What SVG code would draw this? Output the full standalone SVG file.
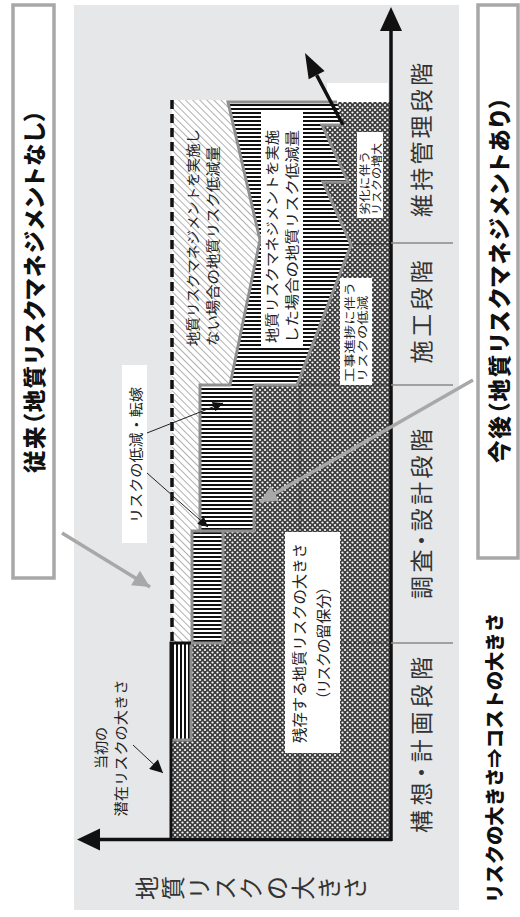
<svg xmlns="http://www.w3.org/2000/svg" width="520" height="917" viewBox="0 0 520 917">
<style>
text{font-family:"Noto Sans CJK JP","Noto Sans CJK SC",sans-serif;fill:#1a1a1a;dominant-baseline:central}
.title{font-size:22.5px;font-weight:900;fill:#111;font-feature-settings:"palt"}
.phase{font-size:23px;fill:#333;font-feature-settings:"palt"}
.lbl{font-size:14px;fill:#222}
.sm{font-size:11.5px;fill:#222}
.ax{font-size:24px;fill:#333}
.frame{fill:#fff;stroke:#a8a8a8;stroke-width:3.5}
.gl{fill:none;stroke:#8f8f8f;stroke-width:3}
.thin{fill:none;stroke:#222;stroke-width:0.9;stroke-opacity:0.7}
.div{stroke:#8a8a8a;stroke-width:1.5}
.wb{fill:#fff}
</style>
<defs>
<pattern id="cross" width="5" height="5" patternUnits="userSpaceOnUse">
<rect width="5" height="5" fill="#3e3e3e"/>
<circle cx="0" cy="0" r="1.1" fill="#fff"/><circle cx="5" cy="0" r="1.1" fill="#fff"/>
<circle cx="0" cy="5" r="1.1" fill="#fff"/><circle cx="5" cy="5" r="1.1" fill="#fff"/>
<circle cx="2.5" cy="2.5" r="1.1" fill="#fff"/>
</pattern>
<pattern id="hs" width="4" height="4" patternUnits="userSpaceOnUse">
<rect width="4" height="4" fill="#fff"/><rect width="4" height="2" fill="#111"/>
</pattern>
<pattern id="vs" width="4" height="4" patternUnits="userSpaceOnUse">
<rect width="4" height="4" fill="#fff"/><rect width="2" height="4" fill="#111"/>
</pattern>
<pattern id="hatch" width="5" height="5" patternUnits="userSpaceOnUse" patternTransform="rotate(-45)">
<rect width="5" height="5" fill="#fff"/><rect width="1" height="5" fill="#b0b0b0"/>
</pattern>
<marker id="tri" viewBox="0 0 10 10" refX="10" refY="5" markerWidth="12" markerHeight="10" markerUnits="userSpaceOnUse" orient="auto">
<path d="M0,0 L10,5 L0,10 Z" fill="#111"/>
</marker>
<marker id="trib" viewBox="0 0 10 10" refX="10" refY="5" markerWidth="17" markerHeight="13" markerUnits="userSpaceOnUse" orient="auto">
<path d="M0,0 L10,5 L0,10 Z" fill="#111"/>
</marker>
<marker id="grayarrow" viewBox="0 0 10 10" refX="10" refY="5" markerWidth="22" markerHeight="17" markerUnits="userSpaceOnUse" orient="auto">
<path d="M0,0 L10,5 L0,10 Z" fill="#a8a8a8"/>
</marker>
</defs>

<g id="background">
<rect x="74" y="5" width="385" height="905" fill="#e6e7e8"/>
<rect x="327" y="83" width="61" height="19" fill="#fff"/>
</g>

<g id="region-no-management">
<polygon points="172,100 228,100 260,240 230,385 200,385 200,531 192,531 192,643 172,643" fill="url(#hatch)"/>
</g>

<g id="region-residual">
<polygon points="337,102 391,102 391,840 172,840 172,740 192,740 192,643 223,643 223,531 254,531 254,385 297,385 351,245 323,182 348,182 322,125 343,125" fill="url(#cross)"/>
<line class="thin" x1="224" y1="643" x2="224" y2="840"/>
<line class="thin" x1="300" y1="385" x2="300" y2="840"/>
<line class="thin" x1="223" y1="643" x2="391" y2="643" stroke-dasharray="3 1.5"/>
<line class="thin" x1="297" y1="385" x2="391" y2="385"/>
<line class="thin" x1="351" y1="244" x2="391" y2="244"/>
</g>

<g id="region-management">
<polygon points="228,102 337,102 343,125 322,125 348,182 323,182 351,245 297,385 230,385 260,240" fill="url(#hs)"/>
<rect x="172" y="643" width="19" height="97" fill="url(#vs)"/>
<rect x="192" y="531" width="31" height="112" fill="url(#hs)"/>
<rect x="200" y="385" width="54" height="146" fill="url(#hs)"/>
</g>

<g id="outlines">
<polyline class="gl" points="337,102 228,102 260,240 230,385 200,385 200,531 192,531 192,643"/>
<polyline class="gl" points="254,385 254,531 200,531"/>
<polyline class="gl" points="223,531 223,643 192,643"/>
<polyline class="gl" points="191,643 191,740 170,740"/>
<polyline class="gl" points="254,385 297,385 351,245 323,182 348,182 322,125 343,125"/>
<line x1="172" y1="100" x2="172" y2="643" stroke="#111" stroke-width="3.5" stroke-dasharray="9 5"/>
<polyline points="191,643 171,643 171,840" fill="none" stroke="#111" stroke-width="3"/>
</g>

<g id="connectors">
<line x1="343" y1="125" x2="316.7" y2="75.1" stroke="#111" stroke-width="3.5"/>
<polygon points="305,53 324.6,70.9 308.7,79.3" fill="#111"/>
<line x1="391" y1="30" x2="391" y2="841" stroke="#111" stroke-width="3.5"/>
<polygon points="391,7 380,31 402,31" fill="#111"/>
<line x1="99" y1="839.5" x2="392" y2="839.5" stroke="#111" stroke-width="3.5"/>
<polygon points="77,839.5 100,828.5 100,850.5" fill="#111"/>
<line class="div" x1="391" y1="243" x2="453" y2="243"/>
<line class="div" x1="391" y1="385" x2="453" y2="385"/>
<line class="div" x1="391" y1="643" x2="453" y2="643"/>
<line x1="133" y1="745" x2="163" y2="773" stroke="#222" stroke-width="1" marker-end="url(#trib)"/>
<line x1="147" y1="433" x2="223" y2="403" stroke="#222" stroke-width="1" marker-end="url(#tri)"/>
<line x1="147" y1="473" x2="208" y2="527" stroke="#222" stroke-width="1" marker-end="url(#tri)"/>
<line x1="62" y1="533" x2="150" y2="587" stroke="#a8a8a8" stroke-width="3.5" marker-end="url(#grayarrow)"/>
<line x1="473" y1="380" x2="260" y2="502" stroke="#a8a8a8" stroke-width="3.5" marker-end="url(#grayarrow)"/>
</g>

<g id="box-conventional">
<rect class="frame" x="13" y="5" width="41" height="573"/>
<text class="title" transform="translate(33,291.5) rotate(-90)" text-anchor="middle" textLength="363" lengthAdjust="spacing">従来（地質リスクマネジメントなし）</text>
</g>

<g id="box-future">
<rect class="frame" x="478" y="5" width="40" height="553"/>
<text class="title" transform="translate(498,280) rotate(-90)" text-anchor="middle" textLength="366" lengthAdjust="spacing">今後（地質リスクマネジメントあり）</text>
</g>

<g id="phase-labels">
<text class="phase" transform="translate(420,140) rotate(-90)" text-anchor="middle" textLength="154" lengthAdjust="spacing">維持管理段階</text>
<text class="phase" transform="translate(420,312) rotate(-90)" text-anchor="middle" textLength="103" lengthAdjust="spacing">施工段階</text>
<text class="phase" transform="translate(420,514) rotate(-90)" text-anchor="middle" textLength="170" lengthAdjust="spacing">調査・設計段階</text>
<text class="phase" transform="translate(420,745) rotate(-90)" text-anchor="middle" textLength="176" lengthAdjust="spacing">構想・計画段階</text>
</g>

<g id="axis-label">
<text class="ax" transform="translate(145,888) rotate(-90)" text-anchor="middle">地</text>
<text class="ax" transform="translate(171,888) rotate(-90)" text-anchor="middle">質</text>
<text class="ax" transform="translate(197,888) rotate(-90)" text-anchor="middle">リ</text>
<text class="ax" transform="translate(223,888) rotate(-90)" text-anchor="middle">ス</text>
<text class="ax" transform="translate(249,888) rotate(-90)" text-anchor="middle">ク</text>
<text class="ax" transform="translate(275,888) rotate(-90)" text-anchor="middle">の</text>
<text class="ax" transform="translate(301,888) rotate(-90)" text-anchor="middle">大</text>
<text class="ax" transform="translate(327,888) rotate(-90)" text-anchor="middle">き</text>
<text class="ax" transform="translate(353,888) rotate(-90)" text-anchor="middle">さ</text>
</g>

<g id="label-no-management">
<text class="lbl" transform="translate(192,346) rotate(-90)" textLength="217" lengthAdjust="spacingAndGlyphs">地質リスクマネジメントを実施し</text>
<text class="lbl" transform="translate(212,346) rotate(-90)" textLength="200" lengthAdjust="spacingAndGlyphs">ない場合の地質リスク低減量</text>
</g>

<g id="label-management">
<rect class="wb" x="261" y="112" width="42" height="234"/>
<text class="lbl" transform="translate(271,343) rotate(-90)" textLength="213" lengthAdjust="spacingAndGlyphs">地質リスクマネジメントを実施</text>
<text class="lbl" transform="translate(291,343) rotate(-90)" textLength="213" lengthAdjust="spacingAndGlyphs">した場合の地質リスク低減量</text>
</g>

<g id="label-transfer">
<rect class="wb" x="122" y="365" width="25" height="178"/>
<text class="lbl" transform="translate(134.5,455) rotate(-90)" text-anchor="middle" textLength="136" lengthAdjust="spacingAndGlyphs">リスクの低減・転嫁</text>
</g>

<g id="label-initial">
<text class="lbl" transform="translate(100,748) rotate(-90)" text-anchor="middle">当初の</text>
<text class="lbl" transform="translate(120,748) rotate(-90)" text-anchor="middle" textLength="137" lengthAdjust="spacingAndGlyphs">潜在リスクの大きさ</text>
</g>

<g id="label-residual">
<rect class="wb" x="285" y="532" width="55" height="221"/>
<text class="lbl" transform="translate(298,643) rotate(-90)" text-anchor="middle" textLength="200" lengthAdjust="spacingAndGlyphs" style="font-size:15px">残存する地質リスクの大きさ</text>
<text class="lbl" transform="translate(322,643) rotate(-90)" text-anchor="middle" style="font-size:15px;font-feature-settings:'palt'">（リスクの留保分）</text>
</g>

<g id="label-construction">
<rect class="wb" x="340" y="278" width="32" height="107"/>
<text class="sm" transform="translate(349,382) rotate(-90)" textLength="100" lengthAdjust="spacingAndGlyphs">工事進捗に伴う</text>
<text class="sm" transform="translate(362,382) rotate(-90)" textLength="86" lengthAdjust="spacingAndGlyphs">リスクの低減</text>
</g>

<g id="label-deterioration">
<rect class="wb" x="357" y="132" width="26" height="86"/>
<text class="sm" transform="translate(364,215) rotate(-90)" textLength="64" lengthAdjust="spacingAndGlyphs">劣化に伴う</text>
<text class="sm" transform="translate(376,215) rotate(-90)" textLength="72" lengthAdjust="spacingAndGlyphs">リスクの増大</text>
</g>

<g id="note">
<text transform="translate(493,903) rotate(-90)" style="font-size:19px;font-weight:900;fill:#111" textLength="290" lengthAdjust="spacingAndGlyphs">リスクの大きさ⇒コストの大きさ</text>
</g>
</svg>
